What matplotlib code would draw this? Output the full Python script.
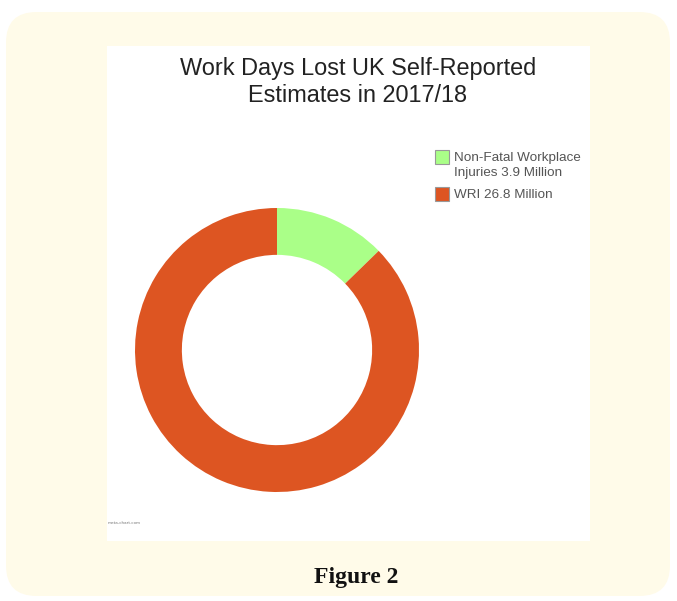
import matplotlib
matplotlib.use("Agg")
import matplotlib.pyplot as plt
from matplotlib.patches import FancyBboxPatch, Rectangle

labels = ["Non-Fatal Workplace\nInjuries 3.9 Million", "WRI 26.8 Million"]
values = [3.9, 26.8]
colors = ["#AAFF88", "#DD5522"]
title = "Work Days Lost UK Self-Reported\nEstimates in 2017/18"

W, H = 677, 601
fig = plt.figure(figsize=(W/100, H/100), dpi=100)
fig.patch.set_facecolor("white")

def fx(px): return px / W
def fy(py): return 1 - py / H

# cream rounded box
bg = FancyBboxPatch((fx(6), fy(596)), fx(670) - fx(6), fy(12) - fy(596),
                    boxstyle="round,pad=0,rounding_size=0.045",
                    transform=fig.transFigure, facecolor="#FFFBE9",
                    edgecolor="none", zorder=-3, mutation_aspect=W/H)
fig.add_artist(bg)
# white inner panel
panel = Rectangle((fx(107), fy(541)), fx(590) - fx(107), fy(46) - fy(541),
                  transform=fig.transFigure, facecolor="white",
                  edgecolor="none", zorder=-2)
fig.add_artist(panel)

# donut
cx, cy, r = 277, 350, 142
ax = fig.add_axes([fx(cx - r), fy(cy + r), fx(2 * r), fy(cy - r) - fy(cy + r)])
ax.set_zorder(1)
ax.set_facecolor("none")
wedges, _ = ax.pie(values, colors=colors, startangle=90, counterclock=False,
                   radius=1.0, wedgeprops=dict(width=0.33, edgecolor="none"))
ax.set_aspect("equal")
ax.set_xlim(-1, 1)
ax.set_ylim(-1, 1)
ax.axis("off")

fig.text(fx(358), fy(82), title, ha="center", va="center", fontsize=16.9,
         family="Liberation Sans", color="#222222", linespacing=1.2)

# legend (handles aligned with the first text line, as in the reference)
box_tops = [150, 187]
for lab, col, top in zip(labels, colors, box_tops):
    fig.add_artist(Rectangle((fx(435), fy(top + 14)), fx(14), fy(top) - fy(top + 14),
                             transform=fig.transFigure, facecolor=col,
                             edgecolor="#999999", linewidth=0.8, zorder=2))
    fig.text(fx(454), fy(top + 2.5), lab, ha="left", va="top",
             fontsize=9.7, family="Liberation Sans", color="#555555",
             linespacing=1.25, zorder=2)

fig.text(fx(108), fy(523), "meta-chart.com", fontsize=3, color="#777777",
         ha="left", va="center")

fig.text(fx(356), fy(577), "Figure 2", ha="center", va="center",
         fontsize=17, fontweight="bold", family="Liberation Serif", color="#111111")

fig.savefig("out.png", dpi=100, facecolor="white")
